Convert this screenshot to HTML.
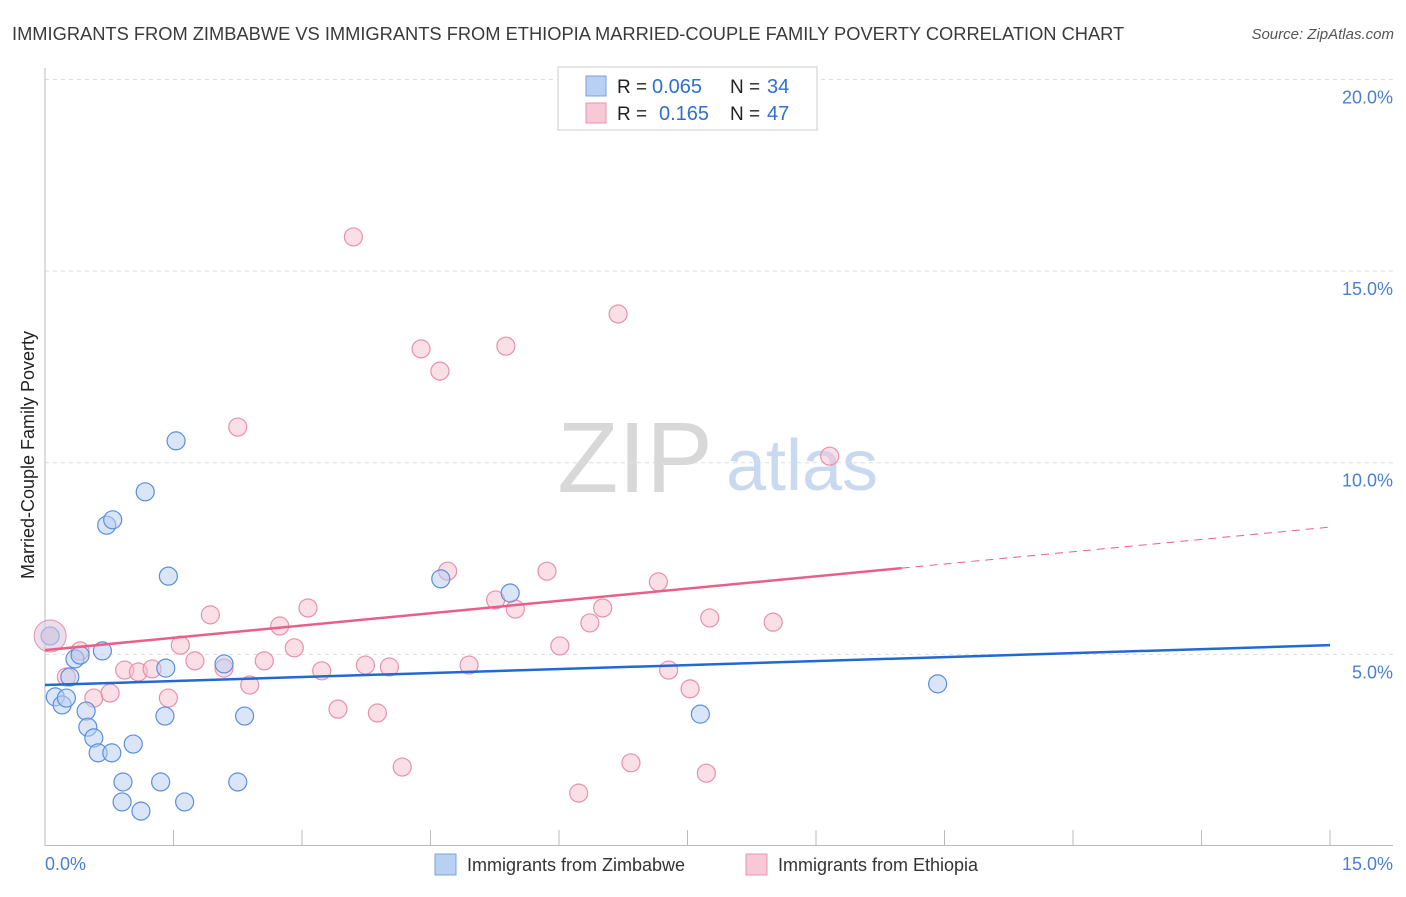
<!DOCTYPE html>
<html><head><meta charset="utf-8"><style>
body{margin:0;background:#fff;font-family:"Liberation Sans",sans-serif;}
svg text{font-family:"Liberation Sans",sans-serif;}
</style></head><body>
<svg width="1406" height="892" viewBox="0 0 1406 892">
<text x="12" y="40" font-size="18.3" fill="#3a3a3a">IMMIGRANTS FROM ZIMBABWE VS IMMIGRANTS FROM ETHIOPIA MARRIED-COUPLE FAMILY POVERTY CORRELATION CHART</text>
<text x="1394" y="39" font-size="15" fill="#555" font-style="italic" text-anchor="end">Source: ZipAtlas.com</text>
<text x="635" y="492" font-size="100" fill="#d8d8d8" font-family="Liberation Serif" text-anchor="middle">ZIP</text>
<text x="802" y="490" font-size="72" fill="#c9daf0" text-anchor="middle">atlas</text>
<g id="grid"></g><g id="axes"></g><g id="pts"></g><g id="lines"></g>
<text transform="translate(34,455) rotate(-90)" font-size="18" fill="#222" text-anchor="middle">Married-Couple Family Poverty</text>
<text x="45" y="870" font-size="18" fill="#4a7fd4">0.0%</text>
<text x="1393" y="870" font-size="18" fill="#4a7fd4" text-anchor="end">15.0%</text>
<g>
<rect x="558" y="67" width="259" height="63" fill="#fff" stroke="#ccc"/>
<rect x="586" y="76" width="20" height="20" fill="#b8d0f2" stroke="#7aa3e0"/>
<rect x="586" y="103" width="20" height="20" fill="#f8c8d6" stroke="#e895b0"/>
<text x="617" y="93" font-size="19" fill="#222">R =</text>
<text x="652" y="93" font-size="20" fill="#2e6fd3">0.065</text>
<text x="730" y="93" font-size="19" fill="#222">N =</text>
<text x="767" y="93" font-size="20" fill="#2e6fd3">34</text>
<text x="617" y="120" font-size="19" fill="#222">R =</text>
<text x="659" y="120" font-size="20" fill="#2e6fd3">0.165</text>
<text x="730" y="120" font-size="19" fill="#222">N =</text>
<text x="767" y="120" font-size="20" fill="#2e6fd3">47</text>
</g>
<g>
<rect x="435" y="854" width="21" height="21" fill="#b8d0f2" stroke="#7aa3e0"/>
<text x="467" y="871" font-size="18" fill="#333">Immigrants from Zimbabwe</text>
<rect x="746" y="854" width="21" height="21" fill="#f8c8d6" stroke="#e895b0"/>
<text x="778" y="871" font-size="18" fill="#333">Immigrants from Ethiopia</text>
</g>
</svg>
<script>
const yTicks=[5,10,15,20];
const xTicks=[0,1.5,3,4.5,6,7.5,9,10.5,12,13.5,15];
const zimX=[0.06,0.12,0.20,0.25,0.29,0.35,0.41,0.48,0.50,0.57,0.62,0.78,0.67,0.72,0.79,0.91,0.90,1.03,1.12,1.17,1.35,1.40,1.44,1.53,1.63,2.09,2.25,2.33,4.62,5.43,7.65,10.42,1.41];
const zimY=[5.48,3.89,3.68,3.86,4.41,4.88,4.98,3.52,3.10,2.82,2.43,2.43,5.09,8.37,8.51,1.67,1.15,2.66,0.91,9.24,1.67,3.39,7.04,10.57,1.15,4.75,1.67,3.39,6.97,6.60,3.44,4.23,4.64];
const ethX=[0.06,0.25,0.41,0.57,0.76,0.93,1.09,1.25,1.44,1.58,1.75,1.93,2.09,2.25,2.39,2.56,2.74,2.91,3.07,3.23,3.42,3.60,3.74,3.88,4.02,4.17,4.39,4.61,4.70,4.95,5.26,5.38,5.49,5.86,6.01,6.23,6.36,6.51,6.69,6.84,7.16,7.28,7.53,7.72,7.76,8.50,9.16];
const ethY=[5.48,4.41,5.09,3.86,3.99,4.59,4.54,4.62,3.86,5.24,4.83,6.03,4.64,10.93,4.20,4.83,5.74,5.17,6.21,4.57,3.57,15.89,4.72,3.47,4.67,2.06,12.97,12.39,7.17,4.72,6.42,13.04,6.18,7.17,5.22,1.38,5.82,6.21,13.88,2.17,6.89,4.59,4.10,1.90,5.95,5.84,10.17];
const zimTrend=[4.20,5.24];
const ethTrend=[5.11,8.32];
const ethSolidEnd=10.0;
const X=v=>45+v*(1285/15), Y=v=>846-v*38.33;
const NS='http://www.w3.org/2000/svg';
function mk(t,a,p){const e=document.createElementNS(NS,t);for(const k in a)e.setAttribute(k,a[k]);p.appendChild(e);return e;}
const grid=document.getElementById('grid'),axes=document.getElementById('axes'),pts=document.getElementById('pts'),lines=document.getElementById('lines');
yTicks.forEach(t=>{
const l=mk('line',{x1:45,x2:1393,y1:Y(t),y2:Y(t),stroke:'#ddd','stroke-dasharray':'4,4'},grid);


const tx=mk('text',{x:1393,y:Y(t)+24,'font-size':18,fill:'#4a7fd4','text-anchor':'end'},grid);tx.textContent=t.toFixed(1)+'%';


});
mk('line',{x1:45,x2:45,y1:68,y2:846,stroke:'#bbb'},axes);
mk('line',{x1:45,x2:1393,y1:845.5,y2:845.5,stroke:'#bbb'},axes);
xTicks.forEach(t=>{const l=mk('line',{x1:X(t),x2:X(t),y1:830,y2:846,stroke:'#bbb'},axes);

});
function dots(xs,ys,fill,stroke,name){xs.forEach((x,i)=>{const c=mk('circle',{cx:X(x),cy:Y(ys[i]),r:9,fill:fill,'fill-opacity':0.5,stroke:stroke,'stroke-width':1.2},pts);

});}
dots(ethX,ethY,'#f6bfd0','#e890ad','ethiopia-point');
dots(zimX,zimY,'#b5cdf1','#5b8fdc','zimbabwe-point');
const big=mk('circle',{cx:X(0.06),cy:Y(5.48),r:16,fill:'#d8c8e0','fill-opacity':0.6,stroke:'#e890ad'},pts);


const zl=mk('line',{x1:X(0),y1:Y(zimTrend[0]),x2:X(15),y2:Y(zimTrend[1]),stroke:'#2169d4','stroke-width':2.5},lines);


const ey=v=>ethTrend[0]+(ethTrend[1]-ethTrend[0])*v/15;
const el=mk('line',{x1:X(0),y1:Y(ey(0)),x2:X(ethSolidEnd),y2:Y(ey(ethSolidEnd)),stroke:'#e8608a','stroke-width':2.5},lines);


const ed=mk('line',{x1:X(ethSolidEnd),y1:Y(ey(ethSolidEnd)),x2:X(15),y2:Y(ey(15)),stroke:'#e8608a','stroke-width':1,'stroke-dasharray':'8,6'},lines);


</script>
</body></html>
